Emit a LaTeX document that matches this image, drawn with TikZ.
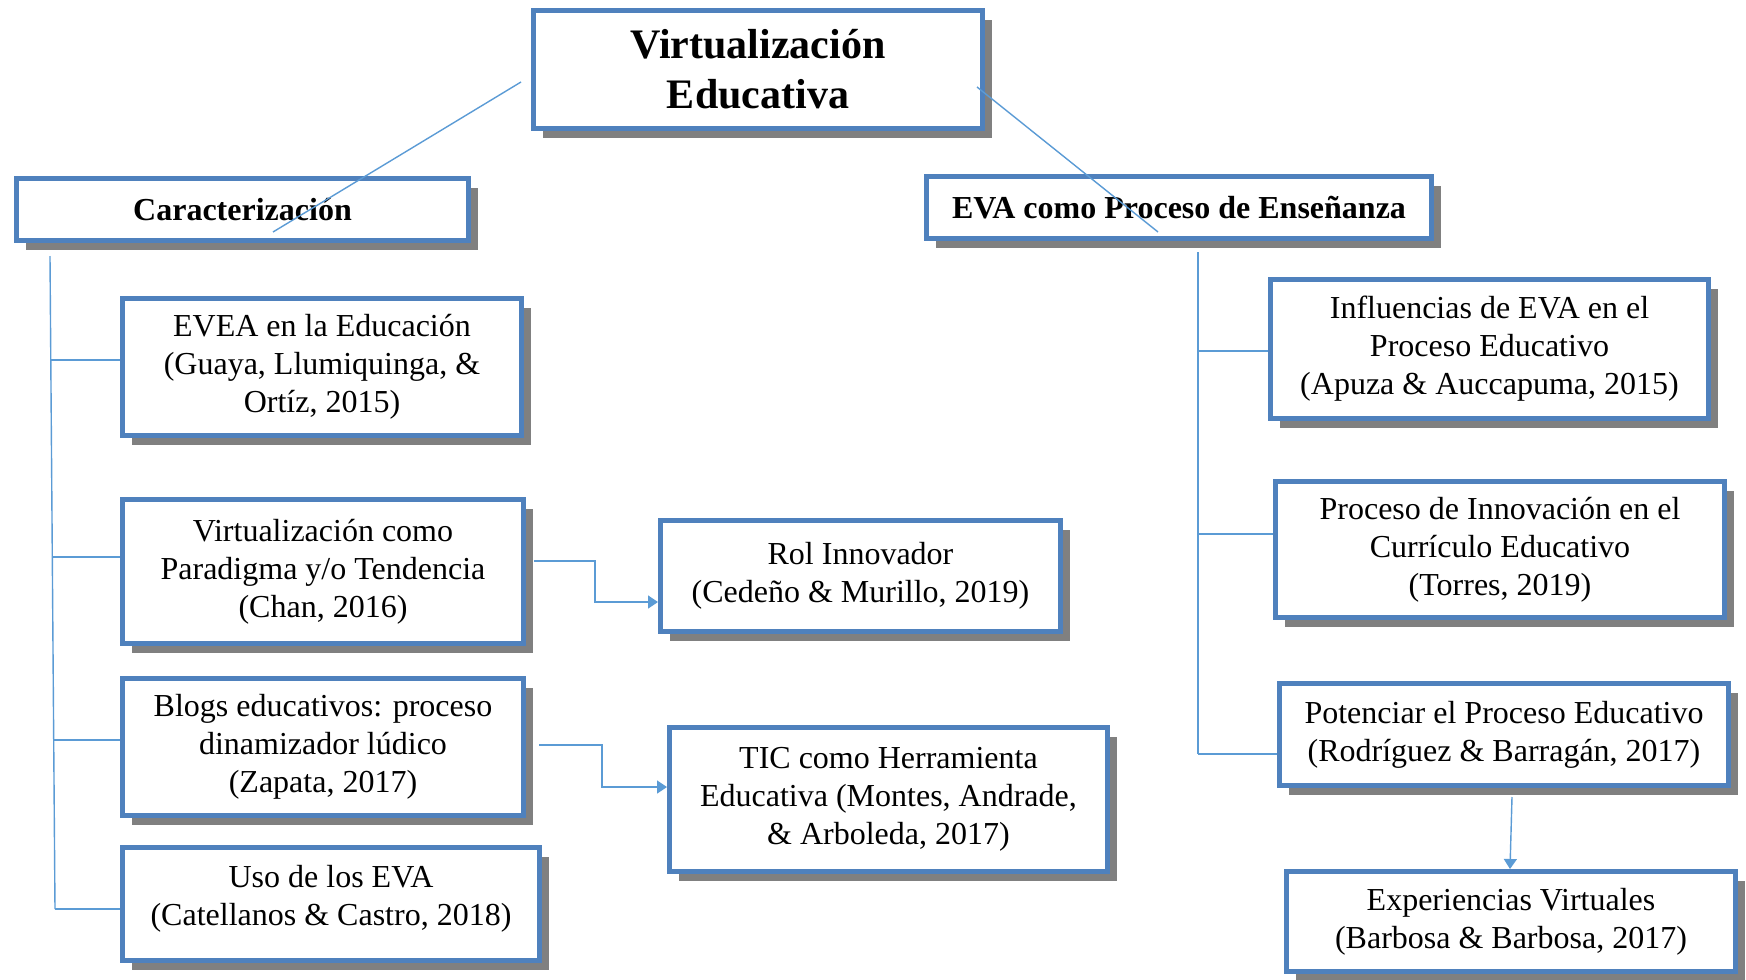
\documentclass[tikz,border=0pt]{standalone}
\usepackage{fontspec}
\setmainfont{Liberation Serif}
\usetikzlibrary{shadows,arrows.meta,calc}
\definecolor{boxblue}{HTML}{4F81BD}
\definecolor{shgray}{HTML}{808080}
\definecolor{linkblue}{HTML}{5B9BD5}
\begin{document}
\begin{tikzpicture}[x=0.5pt,y=-0.5pt,
  cbox/.style 2 args={draw=boxblue, line width=2.5pt, fill=white,
    minimum width=#1*0.5pt-2.5pt, minimum height=#2*0.5pt-2.5pt,
    inner sep=0pt, align=center,
    drop shadow={shadow xshift=4.5pt, shadow yshift=-4.5pt, fill=shgray, opacity=1},
    font=\fontsize{16}{19}\selectfont},
  headfont/.style={font=\fontsize{16}{19}\selectfont\bfseries},
  rootfont/.style={font=\fontsize{21}{25}\selectfont\bfseries},
  conn/.style={draw=linkblue, line width=0.7pt},
  arr/.style={draw=linkblue, line width=0.7pt, -{Triangle[length=5pt,width=6.5pt]}}
]
\useasboundingbox (0,0) rectangle (1746,980);

% boxes
\node[cbox={454}{123}, rootfont] (root) at (758,69.5) {Virtualización\\Educativa};
\node[cbox={457}{67}, headfont] (car) at (242.5,209.5) {Caracterización};
\node[cbox={510}{67}, headfont] (eva) at (1179,207.5) {EVA como Proceso de Enseñanza};

\node[cbox={404}{142}] (evea) at (322,367) {EVEA en la Educación\\(Guaya, Llumiquinga, \&\\Ortíz, 2015)};
\node[cbox={406}{149}] (vir) at (323,571.5) {Virtualización como\\Paradigma y/o Tendencia\\(Chan, 2016)};
\node[cbox={406}{142}] (blog) at (323,747) {Blogs educativos: proceso\\dinamizador lúdico\\(Zapata, 2017)};
\node[cbox={422}{118}] (uso) at (331,904) {Uso de los EVA\\(Catellanos \& Castro, 2018)\\[-10pt]\mbox{}};

\node[cbox={405}{116}] (rol) at (860.5,576) {Rol Innovador\\(Cedeño \& Murillo, 2019)};
\node[cbox={443}{149}] (tic) at (888.5,799.5) {TIC como Herramienta\\Educativa (Montes, Andrade,\\\& Arboleda, 2017)};

\node[cbox={443}{144}] (inf) at (1489.5,349) {Influencias de EVA en el\\Proceso Educativo\\(Apuza \& Auccapuma, 2015)};
\node[cbox={454}{141}] (pin) at (1500,549.5) {Proceso de Innovación en el\\Currículo Educativo\\(Torres, 2019)};
\node[cbox={454}{107}] (pot) at (1504,734.5) {Potenciar el Proceso Educativo\\(Rodríguez \& Barragán, 2017)};
\node[cbox={454}{105}] (exp) at (1511,921.5) {Experiencias Virtuales\\(Barbosa \& Barbosa, 2017)};

% connector points
\coordinate (r1) at (521,82);
\coordinate (c1) at (273,232);
\coordinate (r2) at (977,87);
\coordinate (e1) at (1158,232);

\coordinate (lt0) at (50,256);
\coordinate (lt1) at (51,360);
\coordinate (lt2) at (52,557);
\coordinate (lt3) at (53,740);
\coordinate (lt4) at (55,909);

\coordinate (rt0) at (1198,252);
\coordinate (rt1) at (1198,351);
\coordinate (rt2) at (1198,534);
\coordinate (rt3) at (1198,754);

\coordinate (a1) at (534,561);
\coordinate (a2) at (595,602);
\coordinate (b1) at (539,745);
\coordinate (b2) at (602,787);
\coordinate (p1) at (1512,797);
\coordinate (p2) at (1510,869);

% connectors
\draw[conn] (r1) -- (c1);
\draw[conn] (r2) -- (e1);

\draw[conn] (lt0) -- (lt4);
\draw[conn] (lt1) -- (lt1 -| evea.west);
\draw[conn] (lt2) -- (lt2 -| vir.west);
\draw[conn] (lt3) -- (lt3 -| blog.west);
\draw[conn] (lt4) -- (lt4 -| uso.west);

\draw[conn] (rt0) -- (rt3);
\draw[conn] (rt1) -- (rt1 -| inf.west);
\draw[conn] (rt2) -- (rt2 -| pin.west);
\draw[conn] (rt3) -- (rt3 -| pot.west);

\draw[arr] (a1) -| (a2) -- (a2 -| rol.west);
\draw[arr] (b1) -| (b2) -- (b2 -| tic.west);
\draw[arr] (p1) -- (p2);
\end{tikzpicture}
\end{document}
